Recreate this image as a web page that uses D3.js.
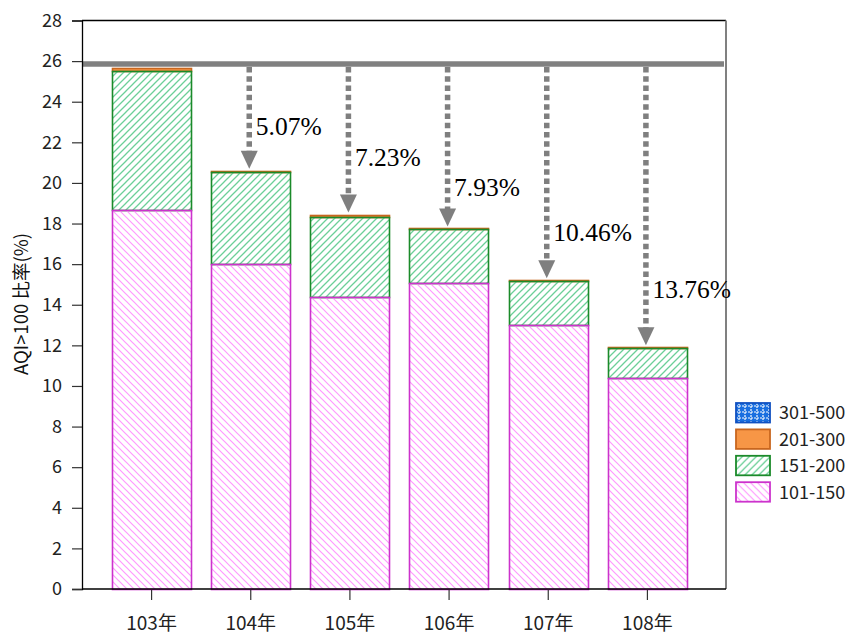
<!DOCTYPE html>
<html>
<head>
<meta charset="utf-8">
<script src="https://cdn.jsdelivr.net/npm/d3@7"></script>
<style>
  body { margin: 0; background: #fff; }
  text { font-family: "Noto Sans CJK TC", "Noto Sans", sans-serif; }
</style>
</head>
<body>
<div id="chart"></div>
<script>
// values (percent of days with AQI > 100)
var years = ["103年", "104年", "105年", "106年", "107年", "108年"];
var keys = ["101-150", "151-200", "201-300", "301-500"];
var v101 = [18.69, 16.03, 14.36, 15.05, 12.98, 10.41];
var v151 = [6.84, 4.52, 3.97, 2.68, 2.19, 1.46];
var v201 = [0.14, 0.05, 0.11, 0.03, 0.04, 0.04];
var v301 = [0, 0, 0, 0, 0, 0];
var refLine = 25.86;
var dropLabels = [null, "5.07%", "7.23%", "7.93%", "10.46%", "13.76%"];
var dropLabelAt = [null, 22.8, 21.25, 19.8, 17.6, 14.75];
var yTicks = d3.range(0, 29, 2);

var W = 850, H = 635;
var plot = {left: 82, right: 726, top: 20.5, bottom: 589};

var svg = d3.select("#chart").append("svg")
    .attr("width", W)
    .attr("height", H);

var defs = svg.append("defs");

// hatch patterns
var pGreen = defs.append("pattern")
    .attr("id", "hatchGreen")
    .attr("patternUnits", "userSpaceOnUse")
    .attr("width", 7).attr("height", 7);
pGreen.append("path")
    .attr("d", "M0,7 L7,0 M-1,1 L1,-1 M6,8 L8,6")
    .attr("stroke", "#6ccf98").attr("stroke-width", 1.3);

var pPink = defs.append("pattern")
    .attr("id", "hatchPink")
    .attr("patternUnits", "userSpaceOnUse")
    .attr("width", 7).attr("height", 7);
pPink.append("path")
    .attr("d", "M0,0 L7,7 M-1,6 L1,8 M6,-1 L8,1")
    .attr("stroke", "#ff99ff").attr("stroke-width", 1.2);

var pBlue = defs.append("pattern")
    .attr("id", "gridBlue")
    .attr("patternUnits", "userSpaceOnUse")
    .attr("width", 6).attr("height", 6);
pBlue.append("rect").attr("width", 6).attr("height", 6).attr("fill", "#1a6fe0");
pBlue.append("path")
    .attr("d", "M3,0 V6 M0,3 H6")
    .attr("stroke", "#ffffff").attr("stroke-width", 1.2)
    .attr("stroke-dasharray", "2,1");

var styles = {
  "101-150": {fill: "url(#hatchPink)", stroke: "#cc33cc"},
  "151-200": {fill: "url(#hatchGreen)", stroke: "#1b8a2a"},
  "201-300": {fill: "#f79646", stroke: "#c8661e"},
  "301-500": {fill: "url(#gridBlue)", stroke: "#1050c0"}
};

var table = years.map(function(y, i) {
  return {year: y, "101-150": v101[i], "151-200": v151[i], "201-300": v201[i], "301-500": v301[i]};
});

var x = d3.scaleBand()
    .domain(years)
    .range([102, 697])
    .paddingInner(0.2)
    .paddingOuter(0.1);

var y = d3.scaleLinear()
    .domain([0, 28])
    .range([plot.bottom, plot.top]);

// frame: top black, right gray
svg.append("line")
    .attr("x1", plot.left).attr("x2", plot.right)
    .attr("y1", y(28)).attr("y2", y(28))
    .attr("stroke", "#000").attr("stroke-width", 1.3);
svg.append("line")
    .attr("x1", plot.right).attr("x2", plot.right)
    .attr("y1", y(28)).attr("y2", y(0))
    .attr("stroke", "#808080").attr("stroke-width", 2);

// stacked bars, top band drawn first so the lower outlines stay on top
var series = d3.stack().keys(keys)(table);

svg.append("g").selectAll("g")
  .data(series.slice().reverse())
  .enter().append("g")
  .each(function(s) {
    d3.select(this).selectAll("rect")
      .data(s.filter(function(d) { return d[1] - d[0] > 0; }))
      .enter().append("rect")
        .attr("x", function(d) { return Math.round(x(d.data.year)) + 0.5; })
        .attr("y", function(d) { return Math.round(y(d[1])) + 0.5; })
        .attr("width", Math.round(x.bandwidth()))
        .attr("height", function(d) { return Math.max(1, Math.round(y(d[0])) - Math.round(y(d[1]))); })
        .attr("fill", styles[s.key].fill)
        .attr("stroke", styles[s.key].stroke)
        .attr("stroke-width", 1.6);
  });

// reference line
svg.append("line")
    .attr("x1", plot.left).attr("x2", plot.right - 2)
    .attr("y1", y(refLine)).attr("y2", y(refLine))
    .attr("stroke", "#808080").attr("stroke-width", 5.5);

// drop arrows
var totals = table.map(function(d) { return d3.sum(keys, function(k) { return d[k]; }); });
var arrows = svg.append("g");
years.forEach(function(yr, i) {
  if (!dropLabels[i]) return;
  var cx = x(yr) + x.bandwidth() / 2 - 1.5;
  var tip = y(totals[i]) - 2;
  var top = y(refLine) + 3;
  arrows.append("line")
      .attr("x1", cx).attr("x2", cx)
      .attr("y1", top).attr("y2", tip - 17)
      .attr("stroke", "#7f7f7f")
      .attr("stroke-width", 5.5)
      .attr("stroke-dasharray", "5.5,3.8");
  arrows.append("path")
      .attr("d", "M" + (cx - 8.5) + "," + (tip - 18) + "L" + (cx + 8.5) + "," + (tip - 18) + "L" + cx + "," + tip + "Z")
      .attr("fill", "#7f7f7f");
  arrows.append("text")
      .attr("x", cx + 6.5)
      .attr("y", y(dropLabelAt[i]))
      .attr("dy", "0.35em")
      .style("font-family", "'Liberation Serif', 'DejaVu Serif', serif")
      .style("font-size", "25.5px")
      .attr("fill", "#000")
      .text(dropLabels[i]);
});

// axes
var yAxis = svg.append("g")
    .attr("transform", "translate(" + plot.left + ",0)")
    .call(d3.axisLeft(y).tickValues(yTicks).tickSize(10).tickPadding(10));
yAxis.select(".domain").attr("stroke", "#000").attr("stroke-width", 1.3);
yAxis.selectAll(".tick line").attr("stroke", "#333").attr("stroke-width", 1.2);
yAxis.selectAll("text")
    .style("font-family", "'Noto Sans CJK TC', 'Noto Sans', sans-serif")
    .style("font-size", "18px").attr("fill", "#222");

var xAxis = svg.append("g")
    .attr("transform", "translate(0," + plot.bottom + ")");
xAxis.append("line")
    .attr("x1", plot.left).attr("x2", plot.right)
    .attr("stroke", "#000").attr("stroke-width", 1.3);
xAxis.selectAll(".xt")
  .data(years)
  .enter().append("line")
    .attr("class", "xt")
    .attr("x1", function(d) { return x(d) + x.bandwidth() / 2; })
    .attr("x2", function(d) { return x(d) + x.bandwidth() / 2; })
    .attr("y1", 1).attr("y2", 11)
    .attr("stroke", "#333").attr("stroke-width", 1.2);
xAxis.selectAll(".xl")
  .data(years)
  .enter().append("text")
    .attr("class", "xl")
    .attr("x", function(d) { return x(d) + x.bandwidth() / 2; })
    .attr("y", 41)
    .attr("text-anchor", "middle")
    .style("font-size", "19px")
    .attr("fill", "#222")
    .text(function(d) { return d; });

// y title
svg.append("text")
    .attr("transform", "translate(28,304) rotate(-90)")
    .attr("text-anchor", "middle")
    .style("font-size", "18.5px")
    .attr("fill", "#111")
    .text("AQI>100 比率(%)");

// legend (top entry = highest band)
var legend = svg.append("g").attr("transform", "translate(736,403)");
var li = legend.selectAll("g")
  .data(keys.slice().reverse())
  .enter().append("g")
    .attr("transform", function(d, i) { return "translate(0," + (i * 26.4) + ")"; });
li.append("rect")
    .attr("width", 34).attr("height", 19.5)
    .attr("fill", function(d) { return styles[d].fill; })
    .attr("stroke", function(d) { return styles[d].stroke; })
    .attr("stroke-width", 1.8);
li.append("text")
    .attr("x", 43).attr("y", 10).attr("dy", "0.35em")
    .style("font-size", "18px")
    .attr("fill", "#222")
    .text(function(d) { return d; });
</script>
</body>
</html>
